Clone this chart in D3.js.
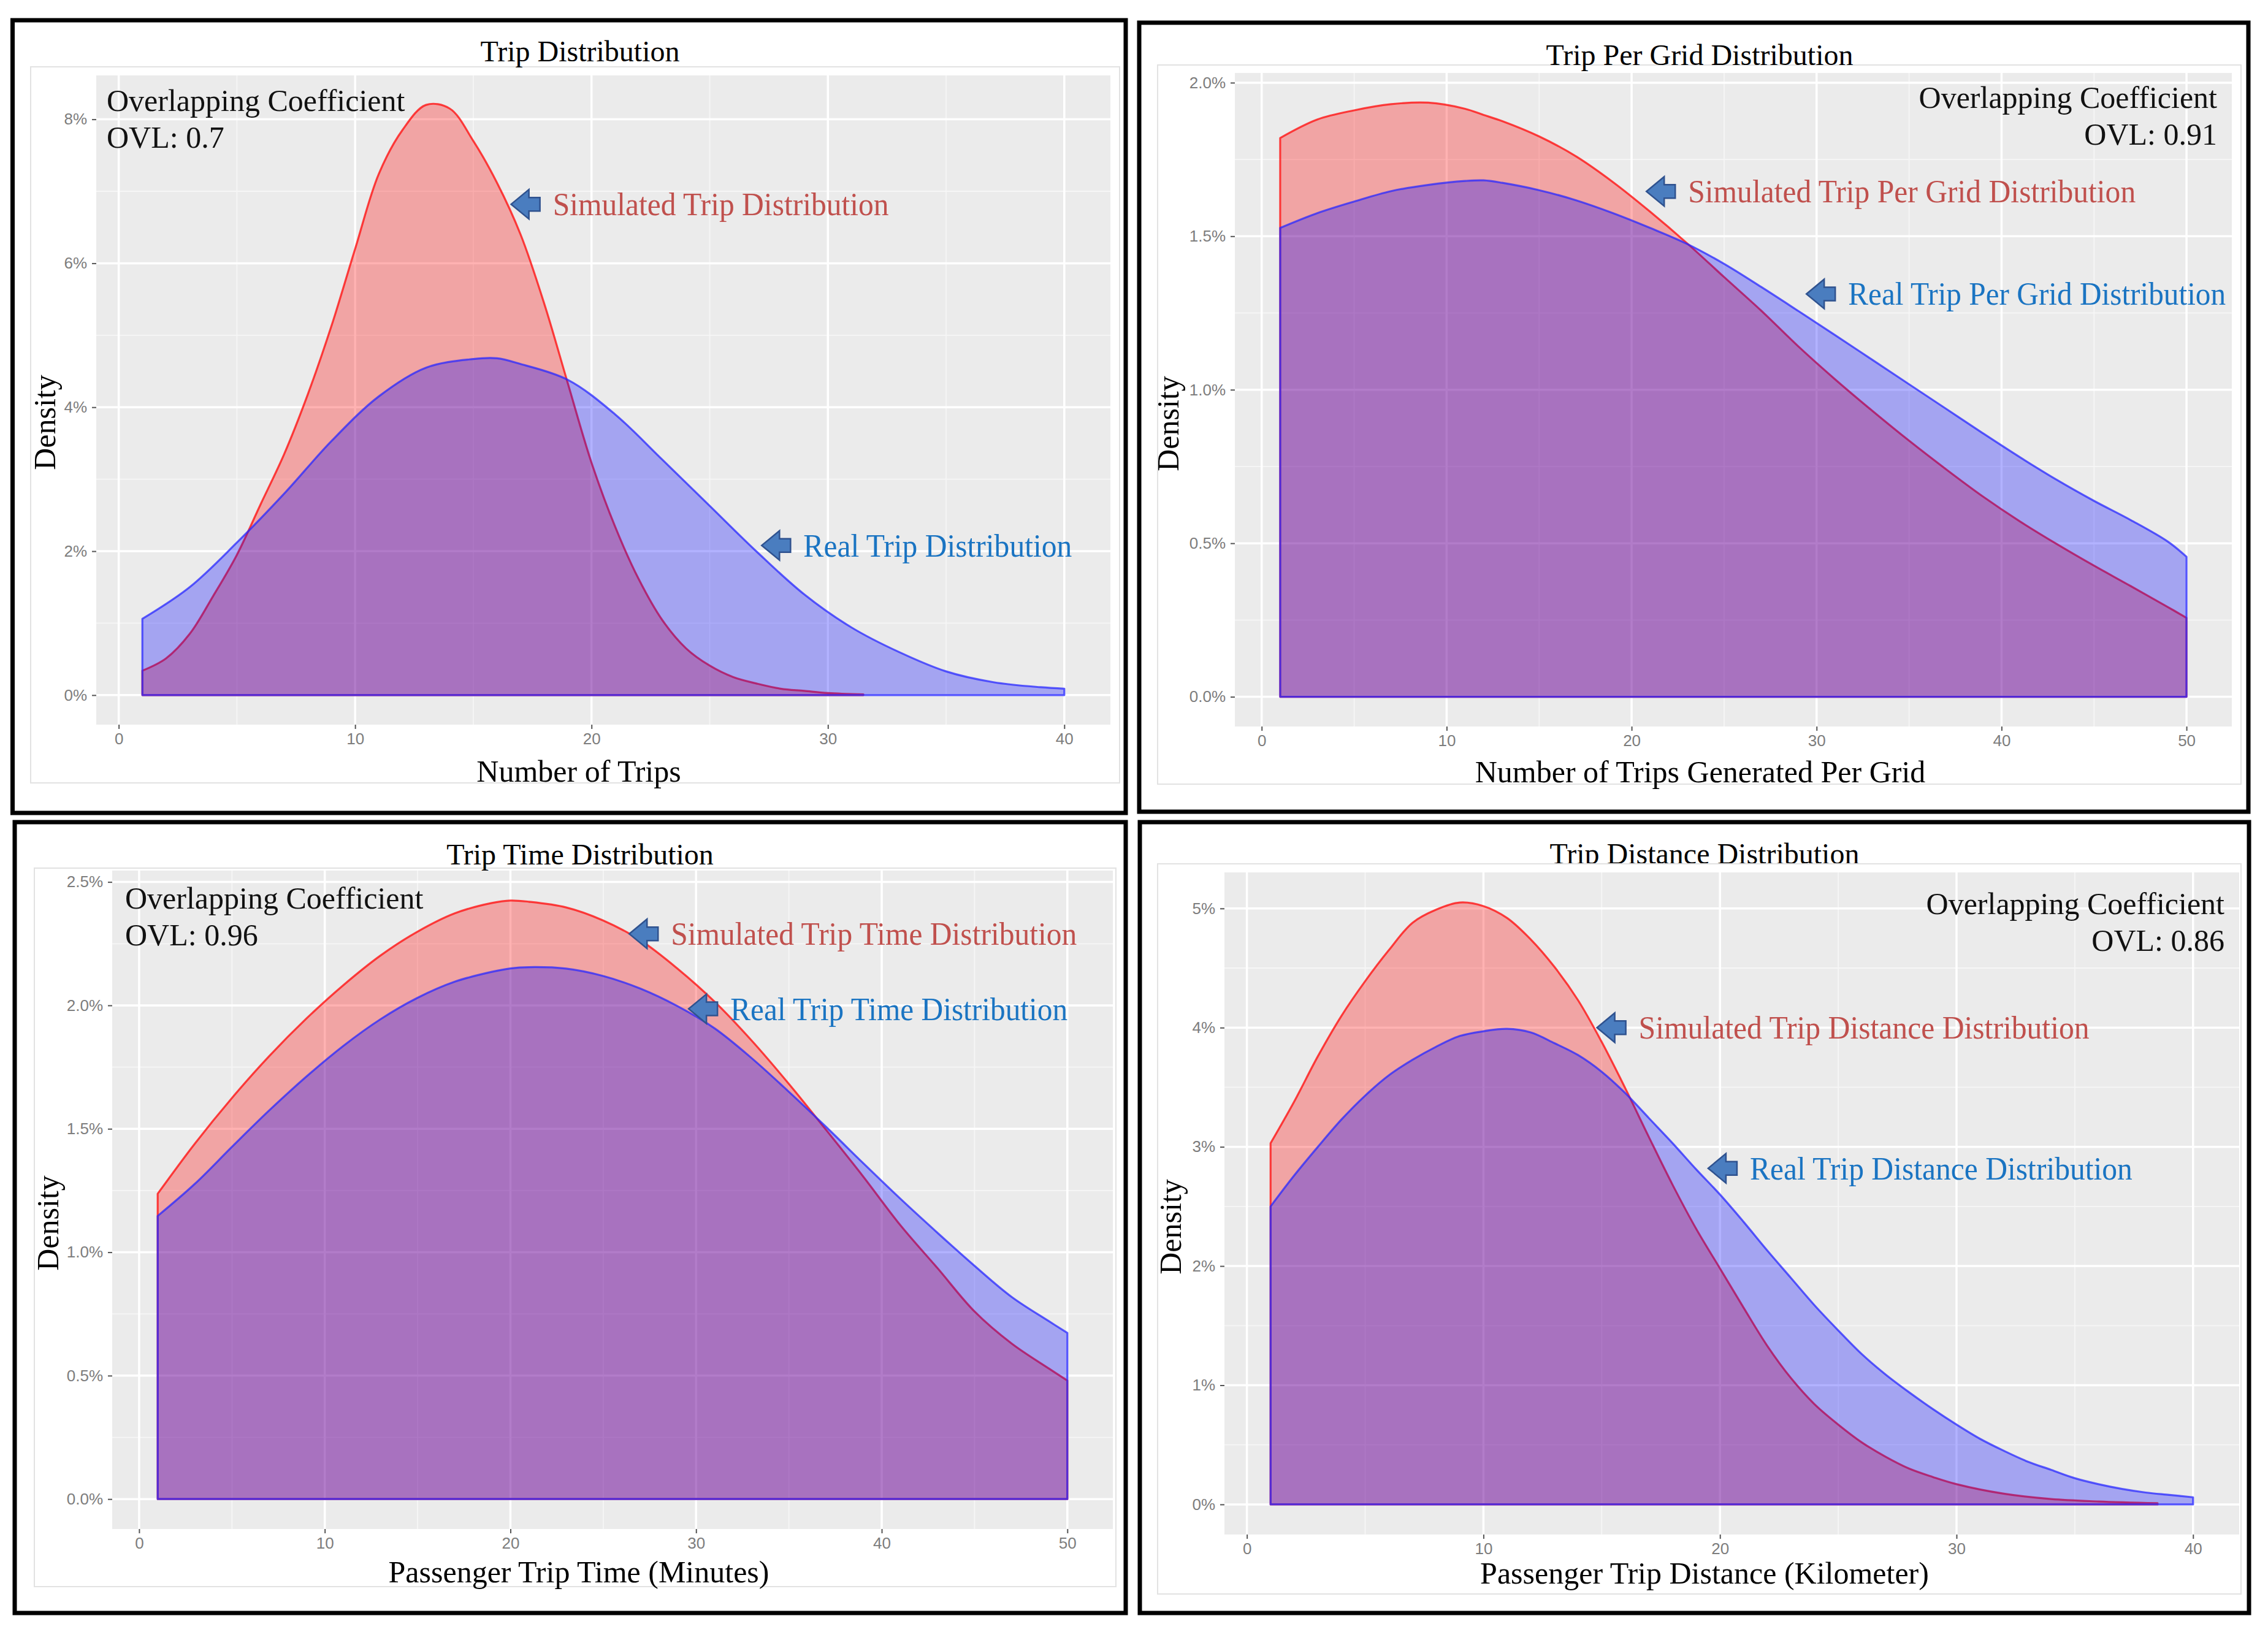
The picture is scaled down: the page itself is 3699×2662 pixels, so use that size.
<!DOCTYPE html>
<html>
<head>
<meta charset="utf-8">
<script src="https://cdn.jsdelivr.net/npm/d3@7/dist/d3.min.js"></script>
<style>
  body { margin: 0; background: #fff; }
  text { font-family: "Liberation Serif", "Times New Roman", serif; }
  .tick text { font-family: "Liberation Sans", Arial, sans-serif; }
</style>
</head>
<body>
<svg id="chart"></svg>
<script>
// ---------------- data : density in percent
var tripSimX  = [1,2,3,4,5,6,7,8,9,10,11,12,13,14,15,16,17,18,19,20,21,22,23,24,25,26,27,28,29,30,31.5]
var tripSim   = [0.34,0.51,0.85,1.38,1.95,2.65,3.35,4.18,5.13,6.2,7.24,7.85,8.2,8.15,7.7,7.12,6.4,5.44,4.33,3.23,2.34,1.61,1.04,0.65,0.41,0.25,0.16,0.09,0.06,0.03,0.01]
var tripRealX = [1,3,5,7,9,11,13,15,16,17,19,21,23,25,27,29,31,33,35,37,39,40]
var tripReal  = [1.06,1.5,2.12,2.8,3.53,4.15,4.55,4.67,4.68,4.6,4.38,3.9,3.27,2.63,1.99,1.4,0.94,0.6,0.33,0.18,0.11,0.09]

var gridX    = [1,3,5,7,9,11,12,13,15,17,19,21,23,25,27,29,31,33,35,37,39,41,43,45,47,49,50]
var gridSim  = [1.82,1.88,1.91,1.93,1.935,1.915,1.895,1.875,1.825,1.76,1.676,1.58,1.477,1.367,1.258,1.142,1.034,0.932,0.834,0.741,0.652,0.571,0.497,0.427,0.36,0.292,0.257]
var gridReal = [1.527,1.575,1.613,1.647,1.667,1.68,1.682,1.674,1.65,1.617,1.575,1.527,1.475,1.41,1.335,1.257,1.178,1.098,1.018,0.938,0.858,0.78,0.706,0.638,0.575,0.505,0.456]

var timeX    = [1,3,5,7,9,11,13,15,17,19,20,21,23,25,27,29,31,33,35,37,39,41,43,45,47,49,50]
var timeSim  = [1.237,1.44,1.625,1.794,1.946,2.082,2.202,2.299,2.373,2.415,2.425,2.42,2.397,2.344,2.264,2.149,2.015,1.857,1.682,1.496,1.307,1.11,0.936,0.76,0.63,0.529,0.48]
var timeReal = [1.147,1.277,1.427,1.574,1.711,1.836,1.944,2.031,2.096,2.136,2.15,2.155,2.149,2.119,2.068,1.997,1.907,1.786,1.65,1.508,1.361,1.217,1.079,0.945,0.819,0.721,0.673]

var distSimX  = [1,2,3,4,5,6,7,8,9,10,11,12,13,14,15,16,17,18,19,20,21,22,23,24,25,26,27,28,29,30,32,34,36,38.5]
var distSim   = [3.03,3.38,3.76,4.1,4.39,4.65,4.88,4.99,5.05,5.02,4.92,4.74,4.51,4.23,3.88,3.49,3.08,2.68,2.31,1.98,1.65,1.33,1.06,0.84,0.67,0.52,0.4,0.3,0.23,0.17,0.09,0.045,0.025,0.01]
var distRealX = [1,2,3,4,5,6,7,8,9,10,11,12,13,14,15,16,17,18,19,20,21,22,23,24,25,26,27,28,29,30,31,32,33,34,35,36,37,38,39,40]
var distReal  = [2.5,2.76,3.0,3.23,3.43,3.6,3.73,3.84,3.93,3.97,3.99,3.96,3.87,3.77,3.63,3.45,3.24,3.03,2.81,2.6,2.37,2.13,1.9,1.67,1.46,1.26,1.09,0.94,0.8,0.67,0.55,0.45,0.36,0.29,0.22,0.17,0.13,0.1,0.08,0.06]

var titles  = ["Trip Distribution", "Trip Per Grid Distribution", "Trip Time Distribution", "Trip Distance Distribution"]
var xLabels = ["Number of Trips", "Number of Trips Generated Per Grid", "Passenger Trip Time (Minutes)", "Passenger Trip Distance (Kilometer)"]
var ovlValues = ["OVL: 0.7", "OVL: 0.91", "OVL: 0.96", "OVL: 0.86"]
var simLabels  = ["Simulated Trip Distribution", "Simulated Trip Per Grid Distribution", "Simulated Trip Time Distribution", "Simulated Trip Distance Distribution"]
var realLabels = ["Real Trip Distribution", "Real Trip Per Grid Distribution", "Real Trip Time Distribution", "Real Trip Distance Distribution"]
var xTickSets = [[0,10,20,30,40], [0,10,20,30,40,50], [0,10,20,30,40,50], [0,10,20,30,40]]
var yTickSets = [[0,2,4,6,8], [0,0.5,1,1.5,2], [0,0.5,1,1.5,2,2.5], [0,1,2,3,4,5]]
// arrow tips in data units [x, y%]
var simArrows  = [[16.6,6.82], [20.8,1.646], [26.4,2.29], [14.8,4.0]]
var realArrows = [[27.2,2.08], [29.45,1.312], [29.6,1.986], [19.5,2.82]]

// ---------------- layout of each panel (pixels)
var panels = [
  { simX: tripSimX, sim: tripSim, realX: tripRealX, real: tripReal, yFmt: d3.format(".0f"),
    box: [20.5,33,1836,1326], bg: [50,109,1826,1277], plot: [157,123,1811,1182],
    title: [946,100], xlab: [944,1275], ylab: [90,689], ovlAt: [174,181], ovlRight: false,
    simW: 548, realW: 438, bgOverTitle: false },
  { simX: gridX, sim: gridSim, realX: gridX, real: gridReal, yFmt: d3.format(".1f"),
    box: [1858,37,3667,1324], bg: [1888,106,3655,1279], plot: [2014,119,3640,1185],
    title: [2772,106], xlab: [2773,1276], ylab: [1922,691], ovlAt: [3616,176], ovlRight: true,
    simW: 730, realW: 616, bgOverTitle: false },
  { simX: timeX, sim: timeSim, realX: timeX, real: timeReal, yFmt: d3.format(".1f"),
    box: [24,1341,1836,2631], bg: [56,1416,1820,2588], plot: [183,1420,1815,2494],
    title: [946,1410], xlab: [944,2581], ylab: [95,1995], ovlAt: [204,1482], ovlRight: false,
    simW: 662, realW: 550, bgOverTitle: false },
  { simX: distSimX, sim: distSim, realX: distRealX, real: distReal, yFmt: d3.format(".0f"),
    box: [1859,1341,3668,2631], bg: [1888,1409,3655,2600], plot: [1997,1423,3652,2503],
    title: [2780,1409], xlab: [2780,2583], ylab: [1926,2001], ovlAt: [3628,1491], ovlRight: true,
    simW: 735, realW: 624, bgOverTitle: true }
]

var svg = d3.select("#chart").attr("width", 3699).attr("height", 2662)
svg.append("rect").attr("width", 3699).attr("height", 2662).attr("fill", "#fff")

function minorBreaks(ticks, domain) {
  var step = ticks[1] - ticks[0], out = []
  var first = ticks[0] - step / 2
  for (var v = first; v <= domain[1]; v += step) if (v >= domain[0]) out.push(v)
  return out
}

function arrowPath(tx, ty) {
  // block arrow pointing left, tip at (tx, ty)
  return "M" + tx + "," + ty + " L" + (tx + 29) + "," + (ty - 24) + " L" + (tx + 29) + "," + (ty - 11) +
    " L" + (tx + 47) + "," + (ty - 11) + " L" + (tx + 47) + "," + (ty + 11) + " L" + (tx + 29) + "," + (ty + 11) +
    " L" + (tx + 29) + "," + (ty + 24) + " Z"
}

panels.forEach(function (p, i) {
  var g = svg.append("g").attr("class", "panel" + i)

  var drawBg = function () {
    g.append("rect").attr("x", p.bg[0]).attr("y", p.bg[1]).attr("width", p.bg[2] - p.bg[0]).attr("height", p.bg[3] - p.bg[1])
      .attr("fill", "#fff").attr("stroke", "#e2e2e2").attr("stroke-width", 2)
  }
  if (!p.bgOverTitle) drawBg()
  // title
  g.append("text").attr("x", p.title[0]).attr("y", p.title[1]).attr("text-anchor", "middle")
    .attr("font-size", 48).attr("fill", "#000").text(titles[i])
  if (p.bgOverTitle) drawBg()

  // scales with ggplot-like 5% expansion
  var xe = d3.extent(p.simX.concat(p.realX)), xpad = (xe[1] - xe[0]) * 0.05
  var ymax = d3.max(p.sim.concat(p.real))
  var x = d3.scaleLinear().domain([xe[0] - xpad, xe[1] + xpad]).range([p.plot[0], p.plot[2]])
  var y = d3.scaleLinear().domain([-ymax * 0.05, ymax * 1.05]).range([p.plot[3], p.plot[1]])

  // panel background
  g.append("rect").attr("x", p.plot[0]).attr("y", p.plot[1]).attr("width", p.plot[2] - p.plot[0]).attr("height", p.plot[3] - p.plot[1])
    .attr("fill", "#ebebeb")

  var xt = xTickSets[i], yt = yTickSets[i]
  // minor grid
  g.selectAll(".xminor").data(minorBreaks(xt, x.domain())).join("line").attr("class", "xminor")
    .attr("x1", d => x(d)).attr("x2", d => x(d)).attr("y1", p.plot[1]).attr("y2", p.plot[3])
    .attr("stroke", "#f6f6f6").attr("stroke-width", 1.8)
  g.selectAll(".yminor").data(minorBreaks(yt, y.domain())).join("line").attr("class", "yminor")
    .attr("y1", d => y(d)).attr("y2", d => y(d)).attr("x1", p.plot[0]).attr("x2", p.plot[2])
    .attr("stroke", "#f6f6f6").attr("stroke-width", 1.8)
  // major grid
  g.selectAll(".xmajor").data(xt).join("line").attr("class", "xmajor")
    .attr("x1", d => x(d)).attr("x2", d => x(d)).attr("y1", p.plot[1]).attr("y2", p.plot[3])
    .attr("stroke", "#fff").attr("stroke-width", 3.5)
  g.selectAll(".ymajor").data(yt).join("line").attr("class", "ymajor")
    .attr("y1", d => y(d)).attr("y2", d => y(d)).attr("x1", p.plot[0]).attr("x2", p.plot[2])
    .attr("stroke", "#fff").attr("stroke-width", 3.5)

  // density areas: simulated first, real drawn on top
  var area = d3.area().curve(d3.curveCatmullRom.alpha(0.5)).x(d => x(d[0])).y0(y(0)).y1(d => y(d[1]))
  g.append("path").datum(d3.zip(p.simX, p.sim)).attr("d", area)
    .attr("fill", "rgba(255,0,0,0.3)").attr("stroke", "rgba(255,20,20,0.8)").attr("stroke-width", 3.2).attr("stroke-linejoin", "round")
  g.append("path").datum(d3.zip(p.realX, p.real)).attr("d", area)
    .attr("fill", "rgba(0,0,255,0.3)").attr("stroke", "rgba(40,40,255,0.75)").attr("stroke-width", 3.2).attr("stroke-linejoin", "round")

  // axes
  var yAxis = g.append("g").attr("transform", "translate(" + p.plot[0] + ",0)")
    .call(d3.axisLeft(y).tickValues(yt).tickSize(7).tickPadding(8).tickFormat(d => p.yFmt(d) + "%"))
  var xAxis = g.append("g").attr("transform", "translate(0," + p.plot[3] + ")")
    .call(d3.axisBottom(x).tickValues(xt).tickSize(7).tickPadding(7))
  ;[xAxis, yAxis].forEach(function (a) {
    a.select(".domain").remove()
    a.selectAll(".tick line").attr("stroke", "#555").attr("stroke-width", 2)
    a.selectAll(".tick text").attr("font-size", 26).attr("fill", "#7d7d7d")
  })

  // axis titles
  g.append("text").attr("x", p.xlab[0]).attr("y", p.xlab[1]).attr("text-anchor", "middle")
    .attr("font-size", 50).attr("fill", "#000").text(xLabels[i])
  g.append("text").attr("transform", "translate(" + p.ylab[0] + "," + p.ylab[1] + ") rotate(-90)").attr("text-anchor", "middle")
    .attr("font-size", 50).attr("fill", "#000").text("Density")

  // overlapping coefficient
  var anchor = p.ovlRight ? "end" : "start"
  g.append("text").attr("x", p.ovlAt[0]).attr("y", p.ovlAt[1]).attr("text-anchor", anchor)
    .attr("font-size", 50).attr("fill", "#111").text("Overlapping Coefficient")
  g.append("text").attr("x", p.ovlAt[0]).attr("y", p.ovlAt[1] + 60).attr("text-anchor", anchor)
    .attr("font-size", 50).attr("fill", "#111").text(ovlValues[i])

  // arrows + labels
  var notes = [
    { at: simArrows[i], label: simLabels[i], color: "#c0504d", w: p.simW },
    { at: realArrows[i], label: realLabels[i], color: "#1a74c2", w: p.realW }
  ]
  notes.forEach(function (n) {
    var tx = x(n.at[0]), ty = y(n.at[1])
    g.append("path").attr("d", arrowPath(tx, ty)).attr("fill", "#4a7dbf").attr("stroke", "#2f528f").attr("stroke-width", 2.5)
    g.append("text").attr("x", tx + 68).attr("y", ty + 18).attr("font-size", 52).attr("fill", n.color)
      .attr("textLength", n.w).attr("lengthAdjust", "spacingAndGlyphs").text(n.label)
  })

  // outer black frame
  g.append("rect").attr("x", p.box[0]).attr("y", p.box[1]).attr("width", p.box[2] - p.box[0]).attr("height", p.box[3] - p.box[1])
    .attr("fill", "none").attr("stroke", "#000").attr("stroke-width", 7)
})
</script>
</body>
</html>
